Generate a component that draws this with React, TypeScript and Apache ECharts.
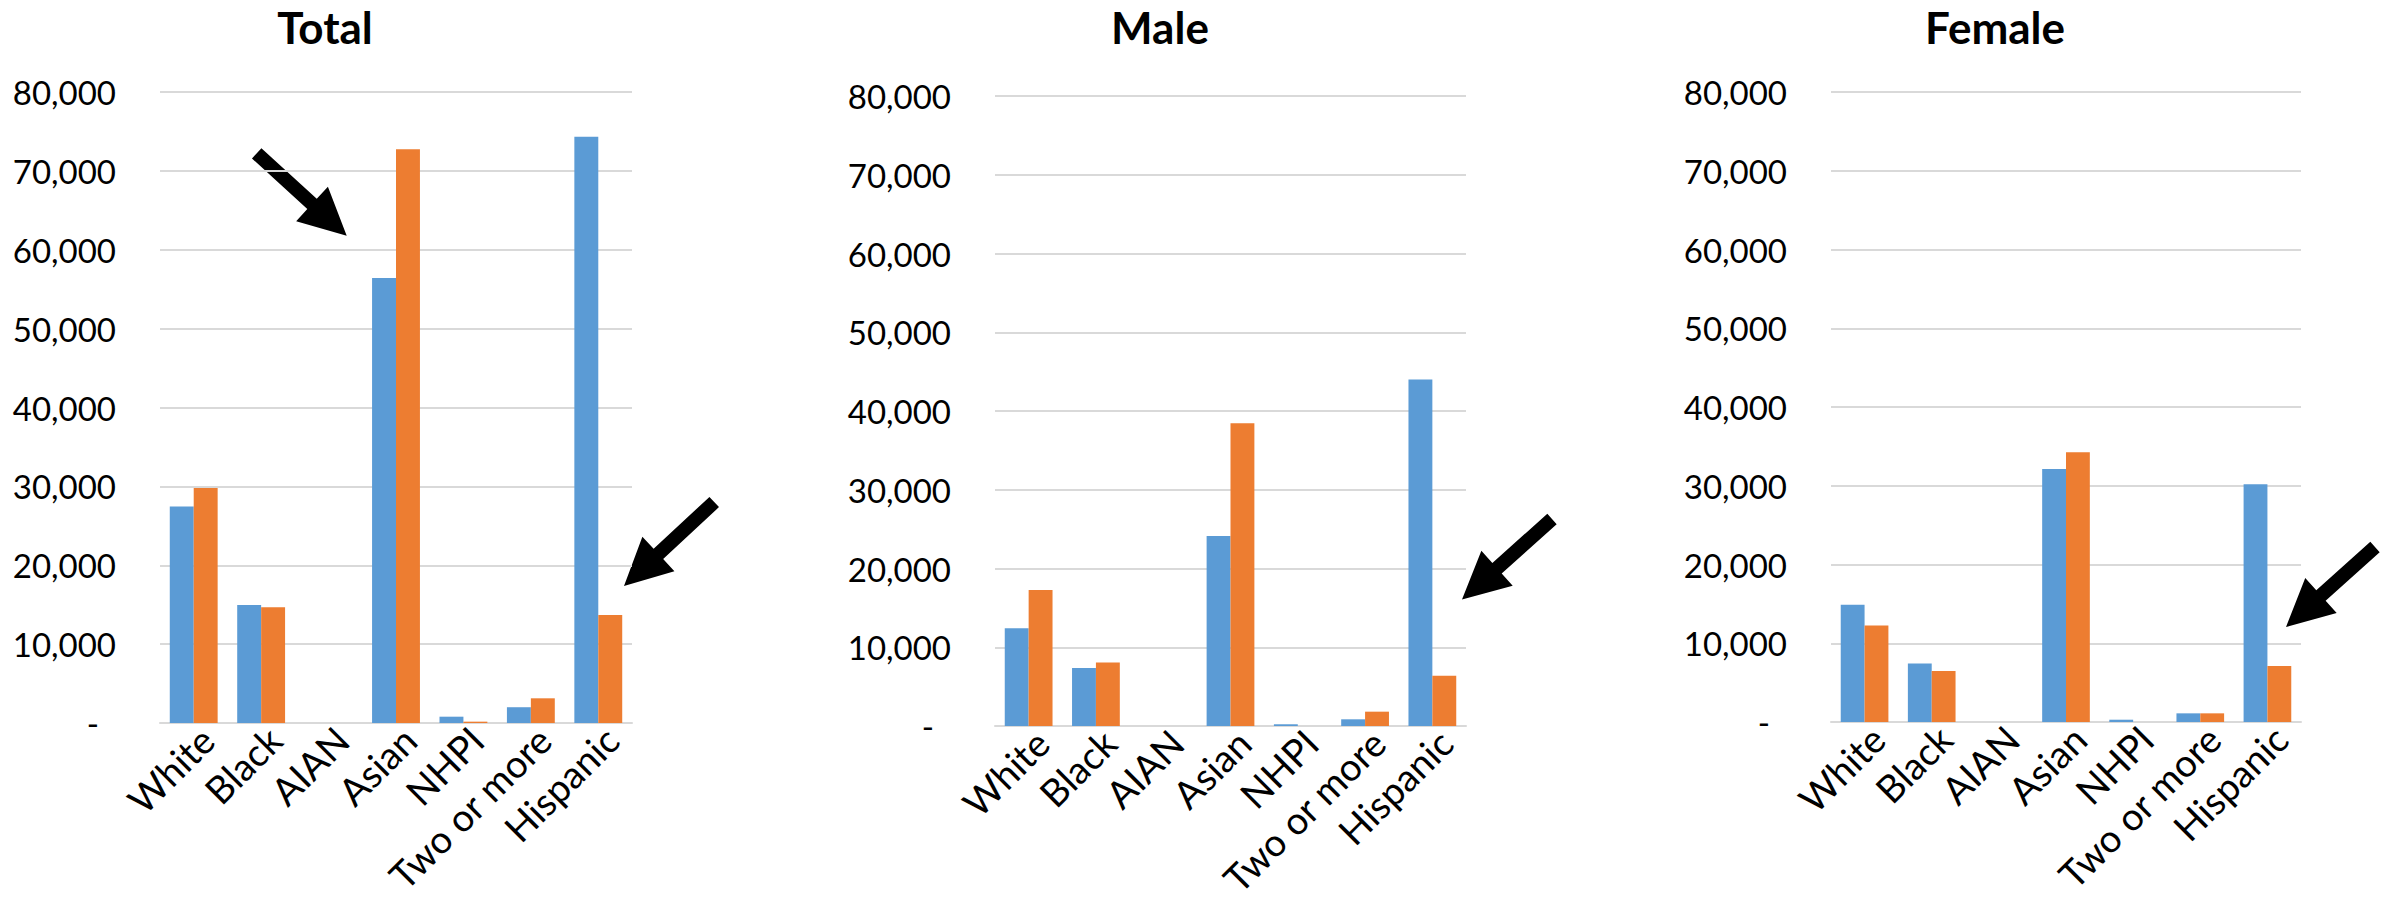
import React, { useEffect, useRef } from "react";
import * as echarts from "echarts";

// Categories along each x axis
const categories = ["White", "Black", "AIAN", "Asian", "NHPI", "Two or more", "Hispanic"];

// Panel titles
const titles = ["Total", "Male", "Female"];

// Values per panel: first (blue) and second (orange) series
const totalBlue = [27450, 14970, 0, 56430, 800, 2000, 74330];
const totalOrange = [29780, 14680, 0, 72750, 170, 3130, 13700];
const maleBlue = [12410, 7370, 0, 24140, 220, 850, 44000];
const maleOrange = [17280, 8050, 0, 38460, 0, 1820, 6390];
const femaleBlue = [14890, 7440, 0, 32140, 290, 1100, 30200];
const femaleOrange = [12260, 6470, 0, 34260, 0, 1100, 7100];

// Value axis range
const yMin = 0;
const yMax = 80000;
const yStep = 10000;

const BLUE = "#5B9BD5";
const ORANGE = "#ED7D31";
const GRID_GRAY = "#D9D9D9";
const FONT = "Lato, Carlito, Calibri, sans-serif";

// Plot-area placement for each panel
const panelLayout = [
  { left: 160, top: 92, width: 472, height: 631, titleX: 325 },
  { left: 995, top: 96, width: 471, height: 630, titleX: 1160 },
  { left: 1831, top: 92, width: 470, height: 630, titleX: 1995 },
];

// Callout arrows: tail centre -> tip
const arrows = [
  { from: [256.7, 153.3], to: [346.7, 235.7] },
  { from: [714.2, 502], to: [624, 586] },
  { from: [1552, 519], to: [1462, 599.5] },
  { from: [2375, 547], to: [2286, 627] },
];

function arrowPoints(from: number[], to: number[], shaftW = 14, headW = 47, headL = 47) {
  const dx = to[0] - from[0];
  const dy = to[1] - from[1];
  const len = Math.hypot(dx, dy);
  const ux = dx / len;
  const uy = dy / len;
  const nx = -uy;
  const ny = ux;
  const bx = to[0] - ux * headL;
  const by = to[1] - uy * headL;
  const s = shaftW / 2;
  const h = headW / 2;
  return [
    [from[0] + nx * s, from[1] + ny * s],
    [bx + nx * s, by + ny * s],
    [bx + nx * h, by + ny * h],
    [to[0], to[1]],
    [bx - nx * h, by - ny * h],
    [bx - nx * s, by - ny * s],
    [from[0] - nx * s, from[1] - ny * s],
  ];
}

export default function App() {
  const ref = useRef<HTMLDivElement>(null);

  useEffect(() => {
    if (!ref.current) return;
    document.body.style.overflow = "hidden";
    const chart = echarts.init(ref.current, undefined, { renderer: "svg" });

    const seriesData = [
      [totalBlue, totalOrange],
      [maleBlue, maleOrange],
      [femaleBlue, femaleOrange],
    ];

    // Fixed plot rectangles
    const grid = panelLayout.map((p) => ({
      left: p.left,
      top: p.top,
      width: p.width,
      height: p.height,
      containLabel: false,
      outerBoundsMode: "none",
    }));

    const xAxis = panelLayout.map((_, i) => ({
      type: "category" as const,
      gridIndex: i,
      data: categories,
      axisTick: { show: false },
      axisLine: { show: true, lineStyle: { color: GRID_GRAY, width: 2 } },
      axisLabel: {
        rotate: 45,
        interval: 0,
        margin: -3,
        verticalAlign: "top",
        color: "#000",
        fontSize: 38,
        fontFamily: FONT,
        hideOverlap: false,
      },
    }));

    const yAxis = panelLayout.map((_, i) => ({
      type: "value" as const,
      gridIndex: i,
      min: yMin,
      max: yMax,
      interval: yStep,
      axisLine: { show: false },
      axisTick: { show: false },
      splitLine: { show: true, lineStyle: { color: GRID_GRAY, width: 2 } },
      axisLabel: {
        margin: 44,
        color: "#000",
        fontSize: 33,
        fontFamily: FONT,
        formatter: (v: number) => (v === 0 ? "{dash|-}" : v.toLocaleString("en-US")),
        rich: {
          dash: { fontSize: 33, fontFamily: FONT, color: "#000", padding: [0, 17, 0, 0] },
        },
      },
    }));

    const series: any[] = [];
    seriesData.forEach((pair, i) => {
      series.push({
        type: "bar",
        name: "first",
        xAxisIndex: i,
        yAxisIndex: i,
        data: pair[0],
        itemStyle: { color: BLUE },
        barGap: "0%",
        barCategoryGap: "29%",
      });
      series.push({
        type: "bar",
        name: "second",
        xAxisIndex: i,
        yAxisIndex: i,
        data: pair[1],
        itemStyle: { color: ORANGE },
        barGap: "0%",
        barCategoryGap: "29%",
      });
    });

    const graphic: any[] = [
      ...titles.map((t, i) => ({
        type: "text",
        x: panelLayout[i].titleX,
        y: 27,
        style: {
          text: t,
          fontSize: 44,
          fontWeight: "bold",
          fontFamily: FONT,
          fill: "#000",
          textAlign: "center",
          textVerticalAlign: "middle",
        },
      })),
      ...arrows.map((a) => ({
        type: "polygon",
        shape: { points: arrowPoints(a.from, a.to) },
        style: { fill: "#000" },
      })),
    ];

    chart.setOption({
      animation: false,
      backgroundColor: "#fff",
      grid,
      xAxis,
      yAxis,
      series,
      graphic,
    });

    return () => chart.dispose();
  }, []);

  return (
    <div
      ref={ref}
      style={{
        position: "absolute",
        left: 0,
        top: 0,
        width: 2392,
        height: 910,
        overflow: "hidden",
      }}
    />
  );
}
